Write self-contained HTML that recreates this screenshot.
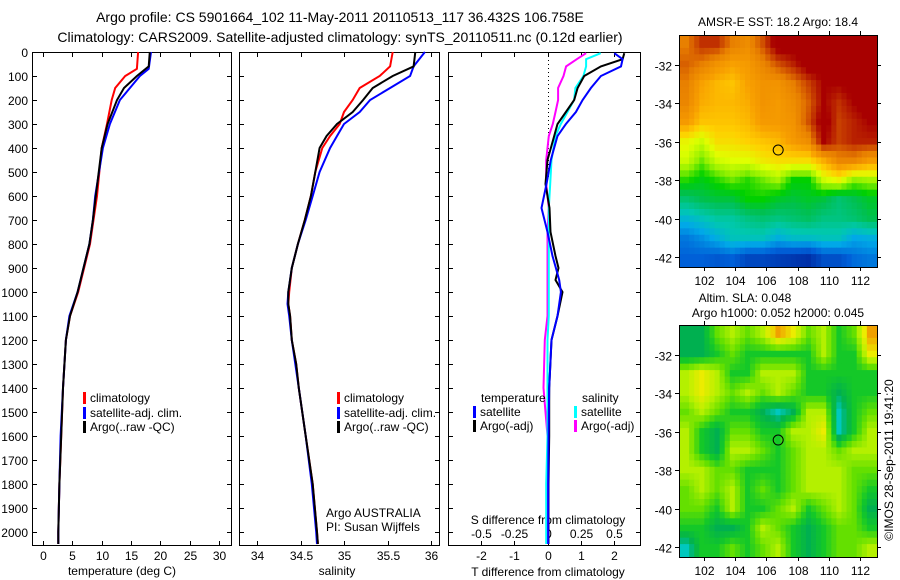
<!DOCTYPE html>
<html><head><meta charset="utf-8"><style>
body{margin:0;background:#fff;}
svg{display:block;font-family:"Liberation Sans",sans-serif;}
</style></head><body>
<svg id="c" width="900" height="580"></svg>
<script>
// ---- data ----
const depthTick=[0,100,200,300,400,500,600,700,800,900,1000,1100,1200,1300,1400,1500,1600,1700,1800,1900,2000];
const tTicks=[0,5,10,15,20,25,30];
const sTicks=[34,34.5,35,35.5,36];
const dTTicks=[-2,-1,0,1,2];
const dSTicks=[-0.5,-0.25,0,0.25,0.5];
const dSTickLabels=["-0.5","-0.25","0","0.25","0.5"];
const deepD=[700,800,900,1000,1100,1200,1400,1600,1800,2000,2050];
const tClimD=[0,70,100,150,200,300,400,600].concat(deepD);
const tClim=[16.2,16.0,14.0,12.3,11.7,10.9,10.0,9.2,8.6,8.0,7.0,6.0,4.6,3.9,3.4,3.1,2.8,2.6,2.6];
const tSatD=[0,70,100,150,200,300,400,600].concat(deepD);
const tSat=[18.4,18.0,16.5,14.8,13.1,11.4,10.2,8.9,8.5,7.9,6.9,5.9,4.5,3.9,3.4,3.0,2.8,2.6,2.6];
const tArgoD=[0,60,100,150,200,300,400,600].concat(deepD);
const tArgo=[18.2,18.0,16.0,13.8,12.6,11.0,10.0,9.0,8.5,7.9,6.9,5.9,4.6,3.9,3.4,3.1,2.8,2.6,2.6];
const sClimD=[0,60,100,150,200,250,300,350,400,500,600,700,800,900,1000,1050,1100,1200,1300,1400,1600,1800,2000,2050];
const sClim=[35.56,35.53,35.41,35.18,35.10,35.0,34.95,34.84,34.75,34.67,34.62,34.55,34.47,34.40,34.37,34.36,34.38,34.40,34.45,34.48,34.56,34.64,34.69,34.70];
const sSat=[35.93,35.8,35.76,35.53,35.3,35.18,35.0,34.92,34.84,34.72,34.64,34.56,34.47,34.40,34.36,34.35,34.37,34.40,34.44,34.48,34.56,34.63,34.68,34.69];
const sArgo=[35.82,35.8,35.56,35.33,35.22,35.1,34.92,34.8,34.72,34.67,34.62,34.55,34.47,34.40,34.36,34.36,34.38,34.40,34.45,34.48,34.56,34.64,34.69,34.70];
const diffD=[5,30,60,100,150,200,250,300,350,450,550,650,750,850,900,950,1000,1100,1200,1400,1600,1800,2050];
const dTSat=[2.0,2.25,2.2,1.6,1.3,1.05,0.85,0.55,0.3,0.1,-0.03,-0.18,0.0,0.15,0.25,0.35,0.4,0.3,0.12,0.05,0.03,0.02,0.02];
const dTArgo=[2.3,2.25,1.6,1.1,0.9,0.8,0.55,0.3,0.2,0.0,-0.06,0.06,0.09,0.24,0.33,0.24,0.45,0.3,0.12,0.05,0.05,0.03,0.03];
const dSSat=[0.4,0.29,0.29,0.27,0.21,0.2,0.15,0.1,0.06,0.03,0.02,0.01,0.01,0.01,0.01,0.01,0.01,0.01,0.0,0.0,0.0,-0.01,-0.01];
const dSArgo=[0.29,0.22,0.14,0.12,0.08,0.08,0.06,0.04,0.01,-0.01,-0.01,0.01,0.0,0.0,0.0,0.0,0.0,0.0,-0.02,-0.03,0.0,0.0,0.0];
const sstGrid=[
[19,19.5,19.5,19,18.8,19.3,20,20,20,20,20,20,20],
[19.2,19,18.7,18.5,18.6,18.9,19.3,19.6,20,20,20,20,20],
[19,18.5,18.3,18.2,18.5,18.7,18.7,19,19.4,19.8,19.8,20,20],
[18.9,18.4,18.3,18.3,18.4,18.7,18.6,18.8,19.2,19.8,19.5,19.8,20],
[18.6,18.2,18.2,18.2,18.3,18.6,18.6,18.7,19.3,20,19.4,19.6,19.8],
[17.8,17.6,18.0,18.0,18.1,18.2,18.3,18.6,18.8,19.8,19.4,19.6,19.6],
[17.6,17.2,17.6,17.7,17.7,17.9,18.0,18.0,18.0,18.4,18.9,18.9,18.6],
[17,16.8,17.0,17.2,17.0,17.2,17.4,16.9,16.9,17.6,17.8,17.3,17.4],
[16.3,16.5,16.6,16.6,16.9,16.9,16.7,16.6,16.7,16.6,16.3,16.5,16.7],
[15.6,15.8,16.0,16.0,16.2,16.3,16.2,16.3,16.4,16.2,16.2,16.3,16.5],
[15,15.2,15.5,15.8,15.8,15.8,15.5,15.7,15.7,15.8,15.8,15.4,15.5],
[14.8,14.8,14.7,14.8,14.5,14.5,14.4,14.3,14.2,14.6,14.6,14.9,15]];
const slaGrid=[
[-2,-2,0,1,0,1,3,2,0,1,-1,0,3],
[-2,-2,-1,0,-1,-1,-1,-1,-1,1,-1,-1,2],
[1,2,1,-1,-1,1,1,1,-1,-1,-1,-1,-1],
[1,2,1,0,1,0,1,0,-1,-1,-2,-1,-1],
[0,1,0,-1,-1,-2,-3,-2,1,1,-3,-1,0],
[1,-1,-2,0,0,-1,-1,1,1,2,-3,-1,1],
[1,-1,-2,1,1,0,-1,0,1,1,0,1,1],
[1,1,0,0,-1,-1,-1,0,1,1,1,0,0],
[0,1,0,1,-1,0,-1,0,1,1,1,0,-1],
[0,0,-1,1,-1,-1,0,1,-1,0,1,0,-2],
[-1,-1,-2,-2,-1,1,0,-1,-2,-1,0,0,-1],
[-3,-1,-1,0,-1,0,1,-1,-2,-1,0,0,1]];
const lonTicks=[102,104,106,108,110,112];
const latTicks=[-32,-34,-36,-38,-40,-42];
const argoPos=[106.758,-36.432];

// ---- helpers ----
const svg=document.getElementById('c');
const NS='http://www.w3.org/2000/svg';
function mk(tag,attrs,parent){const e=document.createElementNS(NS,tag);for(const k in attrs)e.setAttribute(k,attrs[k]);(parent||svg).appendChild(e);return e;}
function txt(x,y,s,size,anchor,name,parent){const e=mk('text',{x:x,y:y,'font-size':size,'text-anchor':anchor||'middle',fill:'#000'},parent);e.textContent=s;return e;}
const Y=d=>52+d*0.24;
const TOP=52,BOT=545;
function frame(x0,x1,name){const r=mk('rect',{x:x0+.5,y:TOP+.5,width:x1-x0,height:BOT-TOP,fill:'none',stroke:'#000','stroke-width':1});
 depthTick.forEach(d=>{mk('line',{x1:x0,x2:x0+5,y1:Y(d)+.5,y2:Y(d)+.5,stroke:'#000'});mk('line',{x1:x1-4,x2:x1+1,y1:Y(d)+.5,y2:Y(d)+.5,stroke:'#000'});});}
function line(xs,ds,fx,color,name){const p=mk('polyline',{points:xs.map((v,i)=>fx(v).toFixed(1)+','+Y(ds[i]).toFixed(1)).join(' '),fill:'none',stroke:color,'stroke-width':2});}
function xticks(vals,fx,x0,labels,ly){vals.forEach((v,i)=>{const x=Math.round(fx(v))+.5;mk('line',{x1:x,x2:x,y1:TOP,y2:TOP+5,stroke:'#000'});mk('line',{x1:x,x2:x,y1:BOT-4,y2:BOT+1,stroke:'#000'});txt(x,ly,labels?labels[i]:String(v),12,'middle','x-tick-label');});}
function legendItem(x,y,color,s){const r=mk('rect',{x:x,y:y-10,width:3,height:12,fill:color});txt(x+7,y,s,12,'start','legend-entry');}

// titles
txt(340,22,'Argo profile: CS 5901664_102 11-May-2011 20110513_117 36.432S 106.758E',14,'middle','title-line-1');
txt(340,42,'Climatology: CARS2009. Satellite-adjusted climatology: synTS_20110511.nc (0.12d earlier)',14,'middle','title-line-2');

// panel 1 temperature
const fT=v=>43+v*5.87;
frame(32,231,'temperature-panel');
depthTick.forEach(d=>txt(28,Y(d)+5,String(d),12,'end','depth-tick-label'));
xticks(tTicks,fT,32,null,560);
txt(122,575,'temperature (deg C)',12,'middle','x-axis-title-temperature');
line(tClim,tClimD,fT,'#ff0000','temp-climatology-line');
line(tSat,tSatD,fT,'#0000ff','temp-satellite-line');
line(tArgo,tArgoD,fT,'#000000','temp-argo-line');
legendItem(83,402,'#ff0000','climatology');
legendItem(83,417,'#0000ff','satellite-adj. clim.');
legendItem(83,431,'#000000','Argo(..raw -QC)');

// panel 2 salinity
const fS=v=>257+(v-34)*87;
frame(239,439,'salinity-panel');
xticks(sTicks,fS,239,null,560);
txt(337,575,'salinity',12,'middle','x-axis-title-salinity');
line(sClim,sClimD,fS,'#ff0000','sal-climatology-line');
line(sSat,sClimD,fS,'#0000ff','sal-satellite-line');
line(sArgo,sClimD,fS,'#000000','sal-argo-line');
legendItem(337,402,'#ff0000','climatology');
legendItem(337,417,'#0000ff','satellite-adj. clim.');
legendItem(337,431,'#000000','Argo(..raw -QC)');
txt(326,517,'Argo AUSTRALIA',12,'start','credit-argo-australia');
txt(326,531,'PI: Susan Wijffels',12,'start','credit-pi');

// panel 3 differences
const fdT=v=>547.5+v*33.4;
const fdS=v=>547.5+v*133;
frame(448,640,'difference-panel');
mk('line',{x1:548.5,x2:548.5,y1:TOP,y2:180,stroke:'#000','stroke-dasharray':'1,3'});
dTTicks.forEach(v=>{const x=Math.round(fdT(v))+.5;mk('line',{x1:x,x2:x,y1:BOT-4,y2:BOT+1,stroke:'#000'});txt(x,560,String(v),12,'middle','t-diff-tick-label');});
dSTicks.forEach((v,i)=>{const x=Math.round(fdS(v))+.5;mk('line',{x1:x,x2:x,y1:TOP,y2:TOP+5,stroke:'#000'});txt(x,538,dSTickLabels[i],12,'middle','s-diff-tick-label');});
txt(548,524,'S difference from climatology',12,'middle','s-diff-axis-title');
txt(548,576,'T difference from climatology',12,'middle','t-diff-axis-title');
line(dSArgo,diffD,fdS,'#ff00ff','sal-diff-argo-line');
line(dSSat,diffD,fdS,'#00ffff','sal-diff-satellite-line');
line(dTArgo,diffD,fdT,'#000000','temp-diff-argo-line');
line(dTSat,diffD,fdT,'#0000ff','temp-diff-satellite-line');
txt(481,402,'temperature',12,'start','legend-title-temperature');
txt(582,402,'salinity',12,'start','legend-title-salinity');
legendItem(473,416,'#0000ff','satellite');
legendItem(473,430,'#000000','Argo(-adj)');
legendItem(574,416,'#00ffff','satellite');
legendItem(574,430,'#ff00ff','Argo(-adj)');

// maps
const lonX=lon=>679+(lon-100.4)*15.6;
function ramp(st,t){
 if(t<=st[0][0])return 'rgb('+st[0][1]+')';for(let i=1;i<st.length;i++){if(t<=st[i][0]){const f=(t-st[i-1][0])/(st[i][0]-st[i-1][0]);const c=st[i-1][1].map((a,k)=>Math.round(a+(st[i][1][k]-a)*f));return 'rgb('+c+')';}}return 'rgb('+st[st.length-1][1]+')';}
const sstStops=[[14.2,[0,48,168]],[14.8,[0,96,216]],[15.4,[0,168,232]],[15.9,[0,200,176]],[16.5,[0,192,80]],[16.9,[0,208,0]],[17.3,[144,240,0]],[17.7,[224,255,0]],[18.1,[255,208,0]],[18.5,[248,160,0]],[19.0,[232,128,0]],[19.4,[200,64,0]],[19.8,[168,0,0]]];
const slaStops=[[-3,[0,200,190]],[-2,[0,176,80]],[-1,[20,200,40]],[0,[100,224,0]],[1,[180,240,0]],[2,[236,236,0]],[3,[240,160,0]]];
function sample(grid,fy,fx){const rows=grid.length,cols=grid[0].length;
 let y=Math.max(0,Math.min(rows-1,fy)),x=Math.max(0,Math.min(cols-1,fx));
 const r0=Math.floor(y),c0=Math.floor(x),r1=Math.min(rows-1,r0+1),c1=Math.min(cols-1,c0+1),a=y-r0,b=x-c0;
 return grid[r0][c0]*(1-a)*(1-b)+grid[r0][c1]*(1-a)*b+grid[r1][c0]*a*(1-b)+grid[r1][c1]*a*b;}
function drawMap(y0,grid,stops,name){
 const latY=lat=>y0+(-30.44-lat)*19.2;
 const g=mk('g',{});
 const rows=grid.length,cols=grid[0].length,sub=3,w=198/(cols*sub),h=232/(rows*sub);
 for(let r=0;r<rows*sub;r++)for(let c=0;c<cols*sub;c++){
  const v=sample(grid,(r+0.5)/sub-0.5,(c+0.5)/sub-0.5);
  const cell=mk('rect',{x:(679+c*w).toFixed(2),y:(y0+r*h).toFixed(2),width:(w+0.6).toFixed(2),height:(h+0.6).toFixed(2),fill:ramp(stops,v)},g);
  
  }
 mk('rect',{x:679.5,y:y0+.5,width:198,height:232,fill:'none',stroke:'#000'},g);
 lonTicks.forEach(l=>{const x=Math.round(lonX(l))+.5;mk('line',{x1:x,x2:x,y1:y0-4,y2:y0,stroke:'#000'},g);mk('line',{x1:x,x2:x,y1:y0+232,y2:y0+236,stroke:'#000'},g);txt(x,y0+250,String(l),12,'middle','lon-tick-label');});
 latTicks.forEach(l=>{const y=Math.round(latY(l))+.5;mk('line',{x1:675,x2:679,y1:y,y2:y,stroke:'#000'},g);mk('line',{x1:877,x2:881,y1:y,y2:y,stroke:'#000'},g);txt(672,y+5,String(l),12,'end','lat-tick-label');});
 const c=mk('circle',{cx:lonX(argoPos[0]),cy:latY(argoPos[1]),r:5,fill:'none',stroke:'#000'},g);
}
drawMap(35,sstGrid,sstStops,'sst-map');
drawMap(325,slaGrid,slaStops,'sla-map');
txt(778,26,'AMSR-E SST: 18.2 Argo: 18.4',12,'middle','sst-map-title');
txt(745,302,'Altim. SLA: 0.048',12,'middle','sla-map-title-1');
txt(778,317,'Argo h1000: 0.052 h2000: 0.045',12,'middle','sla-map-title-2');
const cr=txt(0,0,'©IMOS 28-Sep-2011 19:41:20',12,'middle','timestamp-credit');
cr.setAttribute('transform','translate(893,460) rotate(-90)');
</script>
</body></html>
